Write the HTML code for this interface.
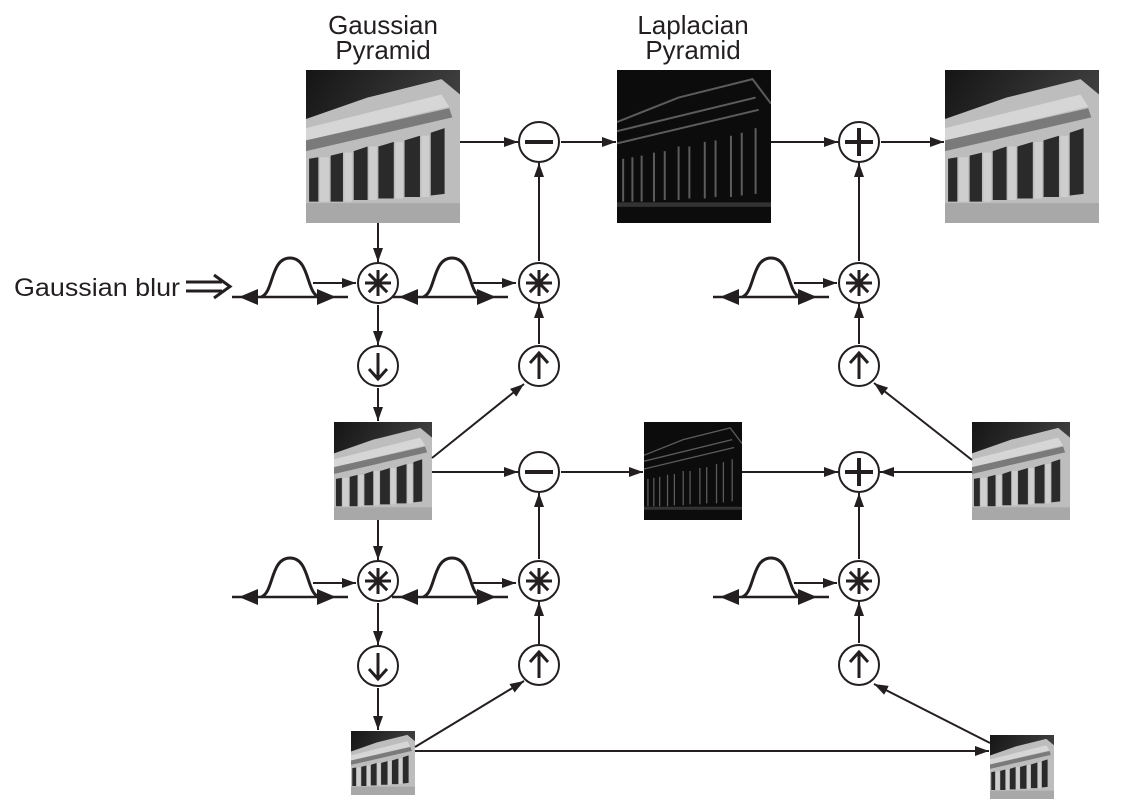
<!DOCTYPE html>
<html><head><meta charset="utf-8"><style>
html,body{margin:0;padding:0;background:#fff;}
svg{display:block;}
text{font-family:"Liberation Sans",sans-serif;fill:#231f20;}
</style></head><body>
<svg id="s" width="1138" height="806" viewBox="0 0 1138 806" xmlns="http://www.w3.org/2000/svg">
<defs>
<marker id="ah" viewBox="0 0 14 10" refX="14" refY="5" markerWidth="14" markerHeight="10" markerUnits="userSpaceOnUse" orient="auto"><path d="M0,0 L14,5 L0,10 z" fill="#231f20"/></marker>
<linearGradient id="sky" x1="0" y1="0" x2="1" y2="0.6"><stop offset="0" stop-color="#151515"/><stop offset="1" stop-color="#4a4a4a"/></linearGradient>
<symbol id="temple" viewBox="0 0 100 100" preserveAspectRatio="none">
<rect width="100" height="100" fill="url(#sky)"/>
<polygon points="0,32 40,18 88,6 100,16 100,100 0,100" fill="#bdbdbd"/>
<polygon points="0,38 88,16 93,24 0,46" fill="#d6d6d6"/>
<polygon points="0,46 93,25 95,31 0,53" fill="#7a7a7a"/>
<g fill="#2a2a2a">
<polygon points="2,58 8,57 8,86 2,86"/><polygon points="16,56 24,54 24,86 16,86"/>
<polygon points="31,53 40,50 40,85 31,85"/><polygon points="47,50 57,47 57,84 47,84"/>
<polygon points="64,46 74,43 74,83 64,83"/><polygon points="81,41 90,38 90,81 81,82"/>
</g>
<g fill="#e0e0e0" opacity="0.5"><rect x="9" y="57" width="6" height="29"/><rect x="25" y="54" width="5" height="32"/><rect x="41" y="50" width="5" height="35"/><rect x="58" y="47" width="5" height="37"/><rect x="75" y="43" width="5" height="40"/></g>
<rect y="87" width="100" height="13" fill="#a8a8a8"/>
</symbol>
<symbol id="lap" viewBox="0 0 100 100" preserveAspectRatio="none">
<rect width="100" height="100" fill="#0c0c0c"/>
<g stroke="#6a6a6a" stroke-width="1.3" fill="none" opacity="0.85">
<polyline points="0,34 40,18 88,6 100,22"/><polyline points="0,40 90,18"/><polyline points="0,48 92,26"/>
<path d="M4,58V86M10,57V86M16,56V86M24,54V86M31,53V85M40,50V85M47,50V84M57,47V84M64,46V83M74,43V83M81,41V82M90,38V81"/>
<path d="M0,88 H100" stroke="#3a3a3a" stroke-width="3"/>
</g>
</symbol>
</defs>
<g id="g"></g>
</svg>
<script>
var g=document.getElementById('g'),h='';
function L(x1,y1,x2,y2,a){h+='<line x1="'+x1+'" y1="'+y1+'" x2="'+x2+'" y2="'+y2+'" stroke="#231f20" stroke-width="2"'+(a?' marker-end="url(#ah)"':'')+'/>';}
function C(x,y,t){h+='<circle cx="'+x+'" cy="'+y+'" r="20" fill="#fff" stroke="#231f20" stroke-width="2"/>';
 var s='stroke="#231f20" stroke-width="4" fill="none"';
 if(t=='-')h+='<line x1="'+(x-14)+'" y1="'+y+'" x2="'+(x+14)+'" y2="'+y+'" '+s+'/>';
 if(t=='+')h+='<path d="M'+(x-14)+','+y+'H'+(x+14)+'M'+x+','+(y-14)+'V'+(y+14)+'" '+s+'/>';
 if(t=='*'){var p='';for(var i=0;i<4;i++){var a=i*Math.PI/4,dx=13*Math.cos(a),dy=13*Math.sin(a);p+='M'+(x-dx)+','+(y-dy)+'L'+(x+dx)+','+(y+dy);}h+='<path d="'+p+'" stroke="#231f20" stroke-width="3"/>';}
 if(t=='d')h+='<path d="M'+x+','+(y-13)+'V'+(y+12)+'M'+(x-9)+','+(y+3)+'L'+x+','+(y+13)+'L'+(x+9)+','+(y+3)+'" stroke="#231f20" stroke-width="3" fill="none"/>';
 if(t=='u')h+='<path d="M'+x+','+(y+13)+'V'+(y-12)+'M'+(x-9)+','+(y-3)+'L'+x+','+(y-13)+'L'+(x+9)+','+(y-3)+'" stroke="#231f20" stroke-width="3" fill="none"/>';}
function K(x0,y,cx){
 h+='<line x1="'+x0+'" y1="'+y+'" x2="'+(x0+116)+'" y2="'+y+'" stroke="#231f20" stroke-width="2.5"/>';
 h+='<path d="M'+(x0+7)+','+y+' L'+(x0+26)+','+(y-8)+' L'+(x0+26)+','+(y+8)+' z M'+(x0+104)+','+y+' L'+(x0+85)+','+(y-8)+' L'+(x0+85)+','+(y+8)+' z" fill="#231f20"/>';
 h+='<path d="M'+(cx-29)+','+y+' C'+(cx-16)+','+(y-4)+' '+(cx-20)+','+(y-39)+' '+cx+','+(y-39)+' C'+(cx+20)+','+(y-39)+' '+(cx+16)+','+(y-4)+' '+(cx+29)+','+y+'" stroke="#231f20" stroke-width="3" fill="none"/>';
 h+='<line x1="'+(x0+81)+'" y1="'+(y-14)+'" x2="'+(x0+124)+'" y2="'+(y-14)+'" stroke="#231f20" stroke-width="2" marker-end="url(#ah)"/>';}
function I(id,x,y,w,hh){h+='<use href="#'+id+'" x="'+x+'" y="'+y+'" width="'+w+'" height="'+hh+'"/>';}
I('temple',306,70,154,153);I('lap',617,70,154,153);I('temple',945,70,154,153);
I('temple',334,422,98,98);I('lap',644,422,98,98);I('temple',972,422,98,98);
I('temple',351,731,64,64);I('temple',990,735,64,64);
L(460,142,518,142,1);L(561,142,616,142,1);L(771,142,838,142,1);L(881,142,944,142,1);
L(378,223,378,262,1);L(378,305,378,345,1);L(378,388,378,421,1);
L(378,520,378,560,1);L(378,603,378,645,1);L(378,688,378,730,1);
L(539,261,539,163,1);L(539,344,539,304,1);L(539,559,539,493,1);L(539,644,539,602,1);
L(859,261,859,163,1);L(859,344,859,304,1);L(859,559,859,493,1);L(859,643,859,602,1);
L(432,472,518,472,1);L(561,472,643,472,1);L(742,472,838,472,1);L(972,472,880,472,1);
L(432,458,524,384,1);L(972,460,874,383,1);
L(415,747,524,681,1);L(415,751,989,751,1);L(990,743,874,684,1);
K(232,297,290);K(392,297,452);K(713,297,771);
K(232,597,290);K(392,597,452);K(713,597,771);
C(539,142,'-');C(859,142,'+');
C(378,283,'*');C(539,283,'*');C(859,283,'*');
C(378,366,'d');C(539,366,'u');C(859,366,'u');
C(539,472,'-');C(859,472,'+');
C(378,581,'*');C(539,581,'*');C(859,581,'*');
C(378,666,'d');C(539,665,'u');C(859,665,'u');
h+='<text x="383" y="34" font-size="26" text-anchor="middle">Gaussian</text><text x="383" y="59" font-size="26" text-anchor="middle">Pyramid</text>';
h+='<text x="693" y="34" font-size="26" text-anchor="middle">Laplacian</text><text x="693" y="59" font-size="26" text-anchor="middle">Pyramid</text>';
h+='<text x="14" y="296" font-size="25" textLength="166" lengthAdjust="spacingAndGlyphs">Gaussian blur</text>';
h+='<path d="M186,282 H222 M186,291 H222 M214,275 L230,286.5 L214,298" stroke="#231f20" stroke-width="3" fill="none"/>';
g.innerHTML=h;
</script>
</body></html>
